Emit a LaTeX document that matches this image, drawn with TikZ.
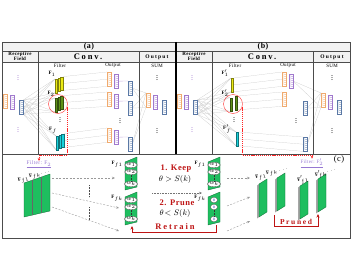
\documentclass[tikz,border=0pt]{standalone}
\usepackage{fontspec}
\setmainfont{Liberation Serif}
\newfontfamily\wide[LetterSpace=6]{Liberation Serif}
\newfontfamily\wider[LetterSpace=22]{Liberation Serif}
\usepackage{amsmath}
\usetikzlibrary{positioning,arrows.meta,calc,shapes.geometric,backgrounds}
\definecolor{vorange}{RGB}{240,170,110}
\definecolor{vpurple}{RGB}{160,120,205}
\definecolor{vblue}{RGB}{90,120,165}
\definecolor{fyellow}{RGB}{235,235,20}
\definecolor{fgreen}{RGB}{95,145,25}
\definecolor{fcyan}{RGB}{25,210,220}
\definecolor{cgreen}{RGB}{30,190,95}
\definecolor{kred}{RGB}{190,20,20}
\definecolor{lpurple}{RGB}{150,120,210}
\newcommand{\wbar}[2]{\filldraw[cbar] (#1,#2+5) -- (#1+12,#2) -- (#1+12,#2+30) -- (#1,#2+33) -- cycle;}

\begin{document}
\begin{tikzpicture}[x=1pt,y=-1pt,
    frame/.style={draw=black!70,line width=0.5pt},
    ttl/.style={font=\wide\bfseries\fontsize{8}{8}\selectfont,inner sep=0pt},
    hdr/.style={font=\wide\bfseries\fontsize{5}{5.5}\selectfont,inner sep=0pt,align=center},
    sub/.style={font=\wide\fontsize{5}{5}\selectfont,inner sep=0pt},
    vec/.style={draw=#1,fill=white,line width=0.35pt,minimum width=4pt,minimum height=14pt,
        inner sep=0pt,anchor=north west,
        path picture={\foreach \k in {1,...,6}
            \draw[#1,line width=0.3pt] ([yshift=-\k*2pt+0.5pt]path picture bounding box.north west)
                -- ([yshift=-\k*2pt-0.5pt]path picture bounding box.north east);}},
    slab/.style={fill=#1,draw=#1!55!black,line width=0.3pt,minimum width=2.4pt,
        minimum height=13.5pt,inner sep=0pt,anchor=north west},
    flab/.style={font=\bfseries\fontsize{5}{5}\selectfont,inner sep=0pt},
    vdot/.style={font=\bfseries\fontsize{6}{2.2}\selectfont,inner sep=0pt,align=center},
    link/.style={draw=black!22,line width=0.2pt},
    plink/.style={draw=vpurple!60,line width=0.3pt},
    redpath/.style={draw=kred,line width=0.7pt,-{Stealth[length=3.5pt,width=3pt]}},
    reddash/.style={draw=red!85,line width=0.6pt,dash pattern=on 1.2pt off 0.9pt,
        -{Stealth[length=3pt,width=2.6pt]}},
    gdash/.style={draw=black!40,line width=0.4pt,dash pattern=on 2pt off 1.5pt,
        -{Stealth[length=3pt,width=2.5pt]}},
    ddots/.style={draw=black!55,line width=0.8pt,dash pattern=on 0.8pt off 0.8pt,
        -{Stealth[length=3pt,width=2.5pt]}},
    cbar/.style={fill=cgreen,draw=cgreen!55!black,line width=0.3pt},
    wnode/.style={ellipse,fill=white,draw=black!70,line width=0.3pt,minimum width=7pt,
        minimum height=5.5pt,inner sep=0pt,font=\fontsize{3.5}{3.5}\selectfont},
    keep/.style={font=\wide\bfseries\fontsize{8.5}{8.5}\selectfont,text=kred,inner sep=0pt},
    cond/.style={font=\fontsize{8.5}{8.5}\selectfont,inner sep=0pt},
    ppl/.style={font=\wide\fontsize{5.5}{5.5}\selectfont,text=lpurple,inner sep=0pt}
]
\useasboundingbox (0,0) rectangle (355,278);

% frame and headers
\fill[gray!10] (2,42) rectangle (350,62);
\draw[frame] (2,42) rectangle (350,238);
\draw[frame] (2,51) -- (350,51) (2,62) -- (350,62) (2,154) -- (350,154);
\draw[frame] (38,51) -- (38,154) (139,51) -- (139,154) (212,51) -- (212,154) (313,51) -- (313,154);
\draw[line width=2pt] (176,42) -- (176,154);

\node[ttl] (ta) at (89,46.5) {(a)};
\node[ttl] (tb) at (263,46.5) {(b)};
\node[hdr] (rfa) at (20,56.5) {Receptive\\Field};
\node[hdr] (rfb) at (194,56.5) {Receptive\\Field};
\node[ttl,font=\wider\bfseries\fontsize{8.5}{8.5}\selectfont] (cva) at (88,57) {Conv.};
\node[ttl,font=\wider\bfseries\fontsize{8.5}{8.5}\selectfont] (cvb) at (262,57) {Conv.};
\node[hdr,font=\wider\bfseries\fontsize{5.5}{5.5}\selectfont] (opa) at (157,57) {Output};
\node[hdr,font=\wider\bfseries\fontsize{5.5}{5.5}\selectfont] (opb) at (332,57) {Output};
\node[sub] (fia) at (60,65.5) {Filter};
\node[sub] (oua) at (113,65.5) {Output};
\node[sub] (sua) at (157,65.5) {SUM};
\node[sub] (fib) at (235,65.5) {Filter};
\node[sub] (oub) at (288,65.5) {Output};
\node[sub] (sub) at (332,65.5) {SUM};

% ---- (a) ----
\node[vec=vorange] (rao) at (3,94) {};
\node[vec=vpurple] (rap) at (10,95) {};
\node[vec=vblue] (rab) at (19,100) {};
\node[vdot,text=vpurple] (da1) at (18,78) {.\\.\\.};
\node[vdot,text=vpurple] (da2) at (18,130) {.\\.\\.};

\foreach \i/\c in {0/a,1/b,2/c} {
  \node[slab=fyellow] (f1\c) at (55+2.6*\i,79-1.2*\i) {};
  \node[slab=fgreen] (f2\c) at (55+2.6*\i,98-1.2*\i) {};
  \node[slab=fcyan] (f3\c) at (56+2.6*\i,136-1.2*\i) {};
}
\node[flab] (lf1) at (52,74) {F$_1$};
\node[flab] (lf2) at (51,94) {F$_2$};
\node[flab] (lf3) at (53,130) {F$_f$};
\node[vdot] (df) at (60,120) {.\\.\\.};
\node[draw=red!80,line width=0.4pt,circle,minimum size=19pt,inner sep=0pt] (cira) at (58,104) {};

\node[vec=vorange] (o1o) at (107,72) {};
\node[vec=vpurple] (o1p) at (114,74) {};
\node[vec=vblue] (o1b) at (128,81) {};
\node[vec=vorange] (o2o) at (107,92) {};
\node[vec=vpurple] (o2p) at (114,94) {};
\node[vec=vblue] (o2b) at (128,101) {};
\node[vdot] (do) at (120,121) {.\\.\\.};
\node[vec=vorange] (o3o) at (107,128) {};
\node[vec=vpurple] (o3p) at (114,130) {};
\node[vec=vblue] (o3b) at (128,137) {};

\node[vec=vorange] (sao) at (146,93) {};
\node[vec=vpurple] (sap) at (153,95) {};
\node[vec=vblue] (sab) at (162,100) {};
\node[vdot] (ds1) at (157,78) {.\\.\\.};
\node[vdot] (ds2) at (157,131) {.\\.\\.};

% ---- (b) ----
\node[vec=vorange] (rbo) at (177,94) {};
\node[vec=vpurple] (rbp) at (184,95) {};
\node[vec=vblue] (rbb) at (193,100) {};
\node[vdot,text=vpurple] (db1) at (192,78) {.\\.\\.};
\node[vdot,text=vpurple] (db2) at (192,130) {.\\.\\.};

\node[slab=fyellow] (g1) at (231,78) {};
\node[slab=fgreen] (g2a) at (229.5,97.5) {};
\node[slab=fgreen] (g2b) at (235,96) {};
\node[slab=fcyan] (g3) at (236,132) {};
\node[flab] (lg1) at (225,73) {F$_1'$};
\node[flab] (lg2) at (225,93) {F$_2'$};
\node[flab] (lg3) at (227,129) {F$_f'$};
\node[vdot] (dg) at (234,120) {.\\.\\.};
\node[draw=red!80,line width=0.4pt,circle,minimum size=19pt,inner sep=0pt] (cirb) at (233,104) {};

\node[vec=vorange] (q1o) at (282,72) {};
\node[vec=vpurple] (q1p) at (289,74) {};
\node[vec=vorange] (q2o) at (282,92) {};
\node[vec=vblue] (q2b) at (303,101) {};
\node[vdot] (dq) at (296,121) {.\\.\\.};
\node[vec=vblue] (q3b) at (303,137) {};

\node[vec=vorange] (sbo) at (321,93) {};
\node[vec=vpurple] (sbp) at (328,95) {};
\node[vec=vblue] (sbb) at (337,100) {};
\node[vdot] (dt1) at (332,78) {.\\.\\.};
\node[vdot] (dt2) at (332,131) {.\\.\\.};

% grey connections
\begin{scope}[on background layer]
\foreach \f in {f1a,f2a,f3a} \foreach \p in {north east,east,south east} \foreach \q in {north west,south west}
  \draw[link] (rab.\p) -- (\f.\q);
\foreach \f/\o in {f1c/o1o,f2c/o2o,f3c/o3o} \foreach \p/\q in {north east/north west,east/west,south east/south west}
  \draw[link] (\f.\p) -- (\o.\q);
\foreach \o in {o1b,o2b,o3b} \foreach \q in {north west,south west}
  \draw[link] (\o.east) -- (sao.\q);
\foreach \o/\b in {o1p/o1b,o2p/o2b,o3p/o3b}
  \draw[plink] (\o.east) -- (\b.north west);
\foreach \f in {g1,g2a,g3} \foreach \p in {north east,east,south east} \foreach \q in {north west,south west}
  \draw[link] (rbb.\p) -- (\f.\q);
\foreach \f/\o in {g1/q1o,g2b/q2o,g3/q3b} \foreach \p/\q in {north east/north west,east/west,south east/south west}
  \draw[link] (\f.\p) -- (\o.\q);
\foreach \o in {q1p,q2b,q3b} \foreach \q in {north west,south west}
  \draw[link] (\o.east) -- (sbo.\q);
\end{scope}

% ---- (c) ----
\node[ttl,font=\wide\fontsize{8.5}{8.5}\selectfont] (tc) at (339,159) {(c)};
\node[ppl] (fla) at (39,164.5) {\underline{Filter: F$_2$}};
\node[ppl,font=\wide\fontsize{5}{5}\selectfont] (flb) at (312,163) {\underline{Filter: F$_2'$}};
\draw[reddash] (cira.-20) -- ++(0,48) -| (fla.north);
\draw[reddash] (cirb.-20) -- ++(0,47.5) -| (flb.north);

\filldraw[cbar] (24,183) -- (32.7,180) -- (32.7,215) -- (24,217) -- cycle;
\filldraw[cbar] (32.7,180) -- (41.3,177) -- (41.3,213) -- (32.7,215) -- cycle;
\filldraw[cbar] (41.3,177) -- (50,174) -- (50,211) -- (41.3,213) -- cycle;
\draw[black!60,line width=0.6pt] (32.7,180) -- (32.7,215) (41.3,177) -- (41.3,213);
\node[flab,rotate=15] (kb1) at (23.5,180) {F$_{f1}$};
\node[flab,rotate=15] (kb2) at (35,176) {F$_{fk}$};
\node[flab,rotate=15] (kb3) at (46,172.5) {$\cdots$};

\coordinate (a1s) at (52,178);
\coordinate (a1e) at (115,178);
\coordinate (a2s) at (52,193);
\coordinate (a2e) at (119,208);
\coordinate (a3s) at (52,207);
\coordinate (a3e) at (119,231);
\draw[gdash] (a1s) -- (a1e);
\draw[gdash] (a2s) -- (a2e);
\draw[gdash] (a3s) -- (a3e);
\draw[black!70,line width=0.9pt,dash pattern=on 0.8pt off 0.7pt] (89,185) -- (89,197) (89,207) -- (89,220);

\wbar{125}{157}
\wbar{125}{192}
\wbar{208}{157}
\wbar{208}{192}
\node[wnode] (lw1) at (131,165) {$w_1$};
\node[wnode] (lw2) at (131,172) {$w_2$};
\node[wnode] (lwk) at (131,184) {$w_k$};
\node[wnode] (mw1) at (131,200) {$w_1$};
\node[wnode] (mw2) at (131,207) {$w_2$};
\node[wnode] (mwk) at (131,219) {$w_k$};
\node[wnode] (rw1) at (214,165) {$w_1$};
\node[wnode] (rw2) at (214,172) {$w_2$};
\node[wnode] (rwk) at (214,184) {$w_k$};
\node[wnode,text=blue!70!black] (z1) at (214,200) {0};
\node[wnode,text=blue!70!black] (z2) at (214,207) {0};
\node[wnode,text=blue!70!black] (zk) at (214,219) {0};
\foreach \a/\b in {lw2/lwk,mw2/mwk,rw2/rwk,z2/zk}
  \draw[black!80,line width=0.9pt,dash pattern=on 0.7pt off 0.7pt] (\a.south) -- (\b.north);
\node[flab] (ll1) at (117,164) {F$_{f1}$};
\node[flab] (ll2) at (117,198) {F$_{fk}$};
\node[flab] (rl1) at (200,164) {F$_{f1}$};
\node[flab] (rl2) at (200,198) {F$_{fk}$};

\node[keep] (kp) at (176,168.5) {1. Keep};
\node[cond] (kc) at (175,179) {$\theta > S(k)$};
\coordinate (ms) at (152,193);
\coordinate (me) at (202,193);
\draw[ddots] (ms) -- (me);
\node[keep] (pr) at (177,203) {2. Prune};
\node[cond] (pc) at (175,213.5) {$\theta\!< S(k)$};
\node[keep,font=\wider\bfseries\fontsize{8.5}{8.5}\selectfont] (rt) at (175,227) {Retrain};
\coordinate (rb2) at (216,225);
\coordinate (lb2) at (132,226);
\draw[redpath] (rb2) -- ++(0,7) -| (lb2);

\coordinate (b1s) at (227,178);
\coordinate (b1e) at (250,178);
\coordinate (b2s) at (227,206);
\coordinate (b2e) at (250,197);
\coordinate (b3s) at (227,231);
\coordinate (b3e) at (250,221);
\draw[gdash] (b1s) -- (b1e);
\draw[gdash] (b2s) -- (b2e);
\draw[gdash] (b3s) -- (b3e);

\foreach \x/\y in {259/184,277/178,300/186,318/179} {
  \fill[black!35] (\x-2,\y+1.5) -- (\x,\y) -- (\x,\y+33) -- (\x-2,\y+34.5) -- cycle;
  \filldraw[cbar] (\x,\y) -- (\x+8,\y-5) -- (\x+8,\y+28) -- (\x,\y+33) -- cycle;
}
\node[flab,rotate=15] (sl1) at (261,177) {F$_{f1}$};
\node[flab,rotate=15] (sl2) at (272,173) {F$_{fk}$};
\node[flab,rotate=15] (sl3) at (284,170) {$\cdots$};
\node[flab,rotate=15] (sl4) at (303,179.5) {F$_{f1}'$};
\node[flab,rotate=15] (sl5) at (321,174) {F$_{fk}'$};
\node[flab,rotate=15] (sl6) at (332,171) {$\cdots$};

\coordinate (pl) at (274,215);
\coordinate (pq) at (318,214);
\draw[redpath] (pl) -- ++(0,11) -| (pq);
\node[keep,font=\wider\bfseries\fontsize{7.5}{7.5}\selectfont] (pn) at (296,221.5) {Pruned};
\end{tikzpicture}
\end{document}
